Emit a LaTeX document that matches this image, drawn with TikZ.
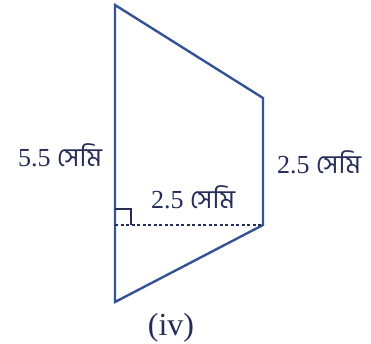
\documentclass[tikz,border=0pt]{standalone}
\usepackage{fontspec}
\setmainfont{Liberation Serif}
\newfontfamily\bnfont[Script=Bengali]{Hind Siliguri}
\usepackage{tikz}
\usetikzlibrary{calc}
\definecolor{edgeblue}{RGB}{52,82,150}
\definecolor{inkblue}{RGB}{38,44,88}
\tikzset{
  sideline/.style={draw=edgeblue, line width=2.4pt, line join=miter},
  dotline/.style={draw=inkblue, line width=2pt, dash pattern=on 3pt off 2.5pt},
  sqmark/.style={draw=inkblue, line width=2pt},
  lenlabel/.style={text=inkblue, font=\fontsize{26}{28}\selectfont, inner sep=0pt},
}
\newcommand{\semi}{{\bnfont সেমি}}
\begin{document}
\begin{tikzpicture}[x=1pt, y=1pt]
  \useasboundingbox (0,0) rectangle (371,343);
  % corners of the trapezium
  \coordinate (tl) at (115,338);
  \coordinate (tr) at (263,245);
  \coordinate (br) at (263,118);
  \coordinate (bl) at (115,41);
  \coordinate (ft) at (115,118);
  \draw[sideline] (tl) -- (tr) -- (br) -- (bl) -- cycle;
  \draw[dotline] (ft) -- (br);
  \draw[sqmark] ($(ft)+(0,16)$) -- ++(16,0) -- ++(0,-16);
  % labels
  \node[lenlabel] (lleft)  at (60,188)  {5.5 \semi};
  \node[lenlabel] (lright) at (319,181) {2.5 \semi};
  \node[lenlabel] (lmid)   at (193,146) {2.5 \semi};
  \node[lenlabel, font=\fontsize{32}{34}\selectfont] (cap) at (171,15) {(iv)};
\end{tikzpicture}
\end{document}
